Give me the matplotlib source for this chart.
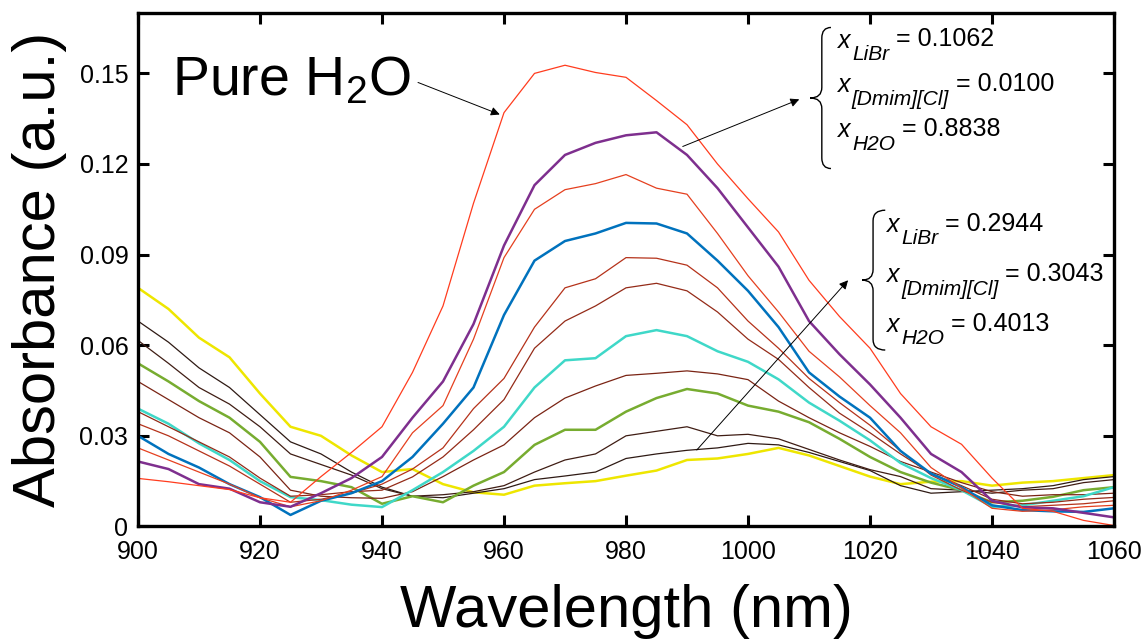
import numpy as np
import matplotlib
matplotlib.use('Agg')
import matplotlib.pyplot as plt
from matplotlib.path import Path
from matplotlib.patches import PathPatch

plt.rcParams['font.family'] = ['Liberation Sans', 'DejaVu Sans']
plt.rcParams['mathtext.fontset'] = 'custom'
plt.rcParams['mathtext.rm'] = 'Liberation Sans'
plt.rcParams['mathtext.it'] = 'Liberation Sans:italic'

# wavelength grid (nm), values read every 5 nm
wl = np.arange(900, 1061, 5)

pure = [0.0159, 0.0148, 0.0135, 0.0122, 0.0095, 0.0080, 0.0165, 0.0245, 0.0330, 0.0510, 0.0730,
        0.1070, 0.1370, 0.1500, 0.1527, 0.1503, 0.1487, 0.1410, 0.1330, 0.1200, 0.1085, 0.0975,
        0.0815, 0.0695, 0.0590, 0.0440, 0.0330, 0.0272, 0.0160, 0.0060, 0.0050, 0.0020, 0.0003]
purple = [0.0215, 0.0190, 0.0140, 0.0125, 0.0080, 0.0065, 0.0110, 0.0160, 0.0230, 0.0360, 0.0480,
          0.0670, 0.0930, 0.1130, 0.1230, 0.1270, 0.1295, 0.1305, 0.1230, 0.1120, 0.0990, 0.0860,
          0.0680, 0.0570, 0.0470, 0.0360, 0.0240, 0.0180, 0.0085, 0.0063, 0.0060, 0.0045, 0.0030]
red3 = [0.0260, 0.0220, 0.0180, 0.0140, 0.0095, 0.0065, 0.0085, 0.0120, 0.0165, 0.0310, 0.0400,
        0.0620, 0.0890, 0.1050, 0.1115, 0.1135, 0.1165, 0.1120, 0.1100, 0.0970, 0.0830, 0.0710,
        0.0580, 0.0495, 0.0400, 0.0310, 0.0195, 0.0127, 0.0060, 0.0050, 0.0055, 0.0065, 0.0070]
blue = [0.0300, 0.0240, 0.0195, 0.0140, 0.0097, 0.0038, 0.0085, 0.0110, 0.0150, 0.0230, 0.0340,
        0.0460, 0.0700, 0.0880, 0.0945, 0.0970, 0.1005, 0.1003, 0.0970, 0.0880, 0.0780, 0.0660,
        0.0510, 0.0430, 0.0360, 0.0250, 0.0175, 0.0130, 0.0070, 0.0054, 0.0050, 0.0048, 0.0060]
brown5 = [0.0340, 0.0300, 0.0250, 0.0200, 0.0140, 0.0080, 0.0090, 0.0110, 0.0140, 0.0190, 0.0260,
          0.0390, 0.0490, 0.0660, 0.0790, 0.0820, 0.0890, 0.0888, 0.0865, 0.0790, 0.0680, 0.0590,
          0.0490, 0.0410, 0.0335, 0.0250, 0.0170, 0.0120, 0.0080, 0.0065, 0.0070, 0.0075, 0.0085]
brown6 = [0.0380, 0.0330, 0.0280, 0.0230, 0.0160, 0.0100, 0.0105, 0.0115, 0.0120, 0.0164, 0.0230,
          0.0320, 0.0420, 0.0590, 0.0680, 0.0730, 0.0790, 0.0805, 0.0780, 0.0710, 0.0620, 0.0553,
          0.0460, 0.0375, 0.0310, 0.0240, 0.0175, 0.0135, 0.0090, 0.0075, 0.0080, 0.0090, 0.0096]
cyan = [0.0390, 0.0340, 0.0275, 0.0220, 0.0150, 0.0097, 0.0087, 0.0072, 0.0064, 0.0120, 0.0180,
        0.0250, 0.0330, 0.0460, 0.0550, 0.0557, 0.0630, 0.0650, 0.0630, 0.0580, 0.0545, 0.0487,
        0.0410, 0.0350, 0.0285, 0.0210, 0.0160, 0.0120, 0.0065, 0.0070, 0.0085, 0.0100, 0.0130]
brown8 = [0.0480, 0.0420, 0.0360, 0.0310, 0.0230, 0.0120, 0.0100, 0.0095, 0.0093, 0.0115, 0.0165,
          0.0220, 0.0270, 0.0360, 0.0425, 0.0465, 0.0500, 0.0507, 0.0515, 0.0505, 0.0486, 0.0415,
          0.0360, 0.0310, 0.0265, 0.0215, 0.0180, 0.0145, 0.0115, 0.0100, 0.0105, 0.0105, 0.0110]
green = [0.0540, 0.0480, 0.0415, 0.0360, 0.0280, 0.0164, 0.0150, 0.0130, 0.0075, 0.0100, 0.0080,
         0.0135, 0.0180, 0.0270, 0.0320, 0.0320, 0.0380, 0.0425, 0.0455, 0.0440, 0.0400, 0.0380,
         0.0345, 0.0290, 0.0230, 0.0180, 0.0145, 0.0120, 0.0080, 0.0085, 0.0098, 0.0120, 0.0130]
black10 = [0.0616, 0.0540, 0.0460, 0.0405, 0.0330, 0.0240, 0.0205, 0.0170, 0.0125, 0.0100, 0.0105,
           0.0115, 0.0135, 0.0180, 0.0220, 0.0240, 0.0300, 0.0315, 0.0330, 0.0300, 0.0305, 0.0290,
           0.0255, 0.0220, 0.0188, 0.0165, 0.0125, 0.0120, 0.0110, 0.0120, 0.0125, 0.0145, 0.0155]
black11 = [0.0680, 0.0610, 0.0525, 0.0460, 0.0370, 0.0280, 0.0240, 0.0180, 0.0130, 0.0100, 0.0095,
           0.0110, 0.0125, 0.0155, 0.0167, 0.0180, 0.0225, 0.0240, 0.0252, 0.0260, 0.0275, 0.0270,
           0.0245, 0.0215, 0.0185, 0.0135, 0.0110, 0.0115, 0.0120, 0.0125, 0.0135, 0.0155, 0.0165]
yellow = [0.0790, 0.0720, 0.0625, 0.0560, 0.0440, 0.0330, 0.0300, 0.0235, 0.0180, 0.0190, 0.0140,
          0.0113, 0.0105, 0.0135, 0.0143, 0.0150, 0.0168, 0.0185, 0.0220, 0.0225, 0.0240, 0.0260,
          0.0235, 0.0200, 0.0165, 0.0140, 0.0148, 0.0150, 0.0135, 0.0145, 0.0150, 0.0160, 0.0170]

series = [yellow, black11, black10, green, brown8, cyan, brown6, brown5, blue, red3, purple, pure]
colors = ['#eee600', '#2e1a14', '#3f1d14', '#77ac30', '#7a2414', '#3fd8c8', '#942b18', '#b5321a',
          '#0072bd', '#e5401f', '#7e2f8e', '#ff3c1e']
widths = [1.8, 0.9, 0.9, 1.8, 0.9, 1.8, 0.9, 0.9, 1.8, 0.9, 1.8, 0.9]

# composition labels
subs = ['LiBr', '[Dmim][Cl]', 'H2O']
comp1 = ['0.1062', '0.0100', '0.8838']
comp2 = ['0.2944', '0.3043', '0.4013']

fig = plt.figure(figsize=(11.48, 6.43), dpi=100)
ax = fig.add_axes([0.1202, 0.1813, 0.8502, 0.7985])

for y, c, lw in zip(series, colors, widths):
    ax.plot(wl, y, color=c, lw=lw)

ax.set_xlim(900, 1060)
ax.set_ylim(0, 0.17)
ax.set_xticks(np.arange(900, 1061, 20))
ax.set_yticks([0, 0.03, 0.06, 0.09, 0.12, 0.15])
ax.set_yticklabels(['0', '0.03', '0.06', '0.09', '0.12', '0.15'])
ax.tick_params(direction='in', length=8, width=2.2, labelsize=18,
               top=True, right=True)
ax.tick_params(axis='x', pad=10)
ax.tick_params(axis='y', pad=7)
for s in ax.spines.values():
    s.set_linewidth(2.4)

ax.set_xlabel('Wavelength (nm)', fontsize=43, labelpad=14)
ax.set_ylabel('Absorbance (a.u.)', fontsize=43, labelpad=9)

# labels and arrows
ax.text(905.6, 0.1427, r'Pure H$_\mathregular{2}$O', fontsize=40, va='baseline')
arrow = dict(arrowstyle='-|>', lw=0.7, color='k', mutation_scale=13, shrinkA=0, shrinkB=0)
ax.annotate('', xy=(959.3, 0.1364), xytext=(945.9, 0.147), arrowprops=arrow)
ax.annotate('', xy=(1008.4, 0.1414), xytext=(989.3, 0.1258), arrowprops=arrow)
ax.annotate('', xy=(1016.4, 0.0815), xytext=(991.6, 0.0253), arrowprops=arrow)


def brace(x_tip, x_mid, x_end, y_top, y_bot, r=0.0035):
    y_c = (y_top + y_bot) / 2
    verts = [(x_end, y_top), (x_mid, y_top), (x_mid, y_top - r),
             (x_mid, y_c + r),
             (x_mid, y_c), (x_tip, y_c),
             (x_mid, y_c), (x_mid, y_c - r),
             (x_mid, y_bot + r),
             (x_mid, y_bot), (x_end, y_bot)]
    codes = [Path.MOVETO, Path.CURVE3, Path.CURVE3, Path.LINETO,
             Path.CURVE3, Path.CURVE3, Path.CURVE3, Path.CURVE3,
             Path.LINETO, Path.CURVE3, Path.CURVE3]
    ax.add_patch(PathPatch(Path(verts, codes), fill=False, lw=1.0, color='k'))


def mole_fraction(x, y, sub, value):
    t1 = ax.text(x, y, 'x', fontsize=18, style='italic', va='baseline')
    t2 = ax.annotate(sub, xy=(1, 0), xycoords=t1, xytext=(1, -8),
                     textcoords='offset points', fontsize=15, style='italic', va='bottom')
    ax.annotate(' = ' + value, xy=(1, 0), xycoords=t2, xytext=(0, 9),
                textcoords='offset points', fontsize=18, va='bottom')


brace(1010.2, 1012.1, 1013.6, 0.1652, 0.1185)
brace(1018.7, 1020.5, 1022.5, 0.1047, 0.0584)

for sub, val, yb in zip(subs, comp1, [0.1585, 0.1437, 0.1288]):
    mole_fraction(1014.75, yb, sub, val)
for sub, val, yb in zip(subs, comp2, [0.0974, 0.0808, 0.0643]):
    mole_fraction(1022.8, yb, sub, val)

fig.savefig('out.png', dpi=100)
